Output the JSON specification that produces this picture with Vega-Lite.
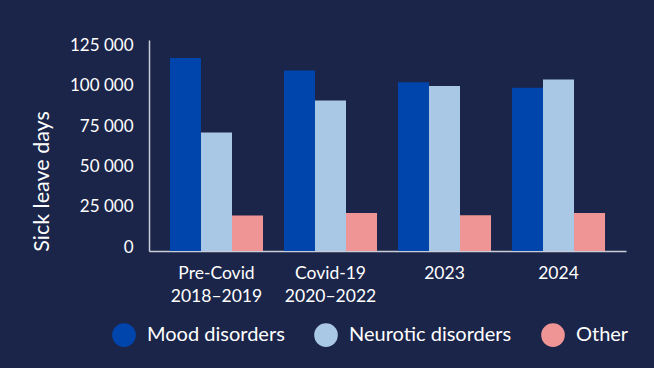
{
  "$schema": "https://vega.github.io/schema/vega-lite/v6.json",
  "width": 477,
  "height": 211,
  "autosize": {"type": "none"},
  "padding": {"left": 149, "top": 40, "right": 28, "bottom": 117},
  "background": "#1b2549",
  "config": {
    "view": {"stroke": null},
    "font": "Lato",
    "axis": {"grid": false, "ticks": false, "domainColor": "#c9cdd8", "domainWidth": 1.5, "labelColor": "#ffffff", "titleColor": "#ffffff", "labelFont": "Lato", "titleFont": "Lato"}
  },
  "data": {
    "values": [
      {"period": "Pre-Covid|2018–2019", "category": "Mood disorders", "days": 119800},
      {"period": "Pre-Covid|2018–2019", "category": "Neurotic disorders", "days": 73600},
      {"period": "Pre-Covid|2018–2019", "category": "Other", "days": 22000},
      {"period": "Covid-19|2020–2022", "category": "Mood disorders", "days": 112100},
      {"period": "Covid-19|2020–2022", "category": "Neurotic disorders", "days": 93500},
      {"period": "Covid-19|2020–2022", "category": "Other", "days": 23600},
      {"period": "2023", "category": "Mood disorders", "days": 104700},
      {"period": "2023", "category": "Neurotic disorders", "days": 102400},
      {"period": "2023", "category": "Other", "days": 22200},
      {"period": "2024", "category": "Mood disorders", "days": 101400},
      {"period": "2024", "category": "Neurotic disorders", "days": 106500},
      {"period": "2024", "category": "Other", "days": 23600}
    ]
  },
  "mark": {"type": "bar"},
  "encoding": {
    "x": {
      "field": "period",
      "type": "nominal",
      "sort": ["Pre-Covid|2018–2019", "Covid-19|2020–2022", "2023", "2024"],
      "scale": {"paddingInner": 0.184, "paddingOuter": 0.184},
      "axis": {
        "title": null,
        "labelAngle": 0,
        "labelExpr": "split(datum.label, '|')",
        "labelFontSize": 17.5,
        "labelPadding": 13,
        "labelLineHeight": 23,
        "labelBaseline": "top"
      }
    },
    "xOffset": {
      "field": "category",
      "sort": ["Mood disorders", "Neurotic disorders", "Other"],
      "scale": {"paddingInner": 0, "paddingOuter": 0}
    },
    "y": {
      "field": "days",
      "type": "quantitative",
      "scale": {"domain": [0, 131000], "nice": false},
      "axis": {
        "values": [0, 25000, 50000, 75000, 100000, 125000],
        "labelExpr": "replace(format(datum.value, ','), ',', ' ')",
        "labelFontSize": 17,
        "labelPadding": 16,
        "labelOffset": -4,
        "title": "Sick leave days",
        "titleFontSize": 21.5,
        "titleFontWeight": "normal",
        "titleX": -107,
        "titleY": 141,
        "titleAngle": -90,
        "titleAlign": "center",
        "titleBaseline": "middle"
      }
    },
    "color": {
      "field": "category",
      "type": "nominal",
      "sort": ["Mood disorders", "Neurotic disorders", "Other"],
      "scale": {"domain": ["Mood disorders", "Neurotic disorders", "Other"], "range": ["#0045ab", "#a9c8e6", "#f09595"]},
      "legend": {
        "title": null,
        "orient": "none",
        "direction": "horizontal",
        "legendX": -37,
        "legendY": 283,
        "symbolType": "circle",
        "symbolSize": 560,
        "symbolStrokeWidth": 0,
        "symbolOpacity": 1,
        "labelFontSize": 20,
        "labelColor": "#ffffff",
        "labelOffset": 11,
        "labelLimit": 0,
        "columnPadding": 29
      }
    }
  }
}
